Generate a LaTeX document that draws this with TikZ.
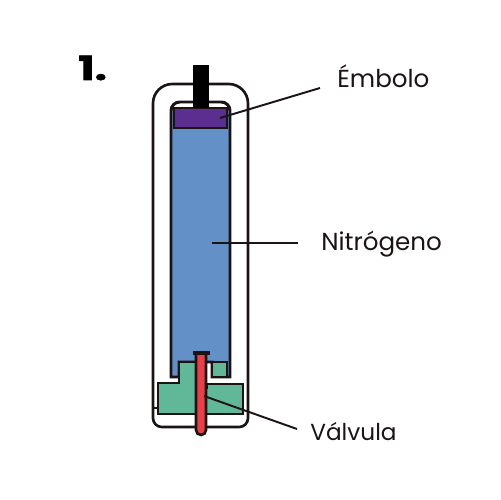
\documentclass[tikz,border=0pt]{standalone}
\usepackage{fontspec}
\setmainfont{Poppins}
\usetikzlibrary{positioning, calc}
\definecolor{DarkLine}{rgb}{0.11, 0.08, 0.08}
\definecolor{PistonPurple}{rgb}{0.36, 0.18, 0.56}
\definecolor{GasBlue}{rgb}{0.39, 0.57, 0.78}
\definecolor{SealGreen}{rgb}{0.38, 0.72, 0.60}
\definecolor{ValveRed}{rgb}{0.91, 0.25, 0.29}
\tikzset{
  wall/.style={draw=DarkLine, line width=1.5pt, line join=miter},
  leader/.style={draw=DarkLine, line width=1.1pt},
  partlabel/.style={font=\fontsize{14}{18}\selectfont, text=DarkLine, anchor=base west, inner ysep=0pt}
}
\begin{document}
\begin{tikzpicture}[x=0.02cm, y=-0.02cm]
\useasboundingbox (0,0) rectangle (500,500);

% carcasa exterior
\draw[wall, rounded corners=11pt] (153,250) -- (153,84) -- (248,84) -- (248,250);
\draw[wall, rounded corners=5pt] (153,250) -- (153,427) -- (248,427) -- (248,250);

% nitrogeno
\fill[GasBlue] (171,110) rectangle (230,377);
\fill[white] (179,362) rectangle (212,378);
\draw[wall, line width=1.7pt] (171,377) [rounded corners=5pt] -- (171,102) -- (230,102) -- (230,300) [sharp corners] -- (230,377) -- (212,377) -- (212,362) -- (179,362) -- (179,377) -- cycle;

% sello
\draw[wall, fill=SealGreen] (179,362) -- (197,362) -- (197,414) -- (158,414) -- (158,383) -- (179,383) -- cycle;
\draw[wall, fill=SealGreen] (205,388) -- (207,388) -- (207,384) -- (243,384) -- (243,414) -- (205,414) -- cycle;
\draw[wall, fill=SealGreen] (212,362) rectangle (227,377);
\draw[wall] (153,408) -- (158,408);
\draw[wall] (203,364) -- (203,388);

% embolo y vastago
\draw[wall, fill=PistonPurple] (174,108) rectangle (227,128);
\fill[black] (193,65) rectangle (209,108);

% valvula
\draw[wall, fill=ValveRed] (196,353) -- (196,430) arc[start angle=180, end angle=0, radius=5] -- (206,353) -- cycle;
\draw[wall, line width=1.8pt] (193,353) -- (210,353);

% etiquetas
\node[font=\fontsize{19}{22}\selectfont\bfseries, text=black, anchor=base west, inner sep=0pt] (numlabel) at (78,80) {\addfontfeature{FakeBold=1.5}\scalebox{1.3}[1]{1.}};
\node[partlabel, inner xsep=0.34cm] (embololabel) at (320,88) {Émbolo};
\node[partlabel, inner xsep=0.46cm] (nitrolabel) at (298,250) {Nitrógeno};
\node[partlabel, inner xsep=0.26cm, font=\fontsize{13.2}{18}\selectfont] (valvelabel) at (297,440) {Válvula};

% lineas
\coordinate (embolopoint) at (220,118);
\coordinate (nitropoint) at (212,243);
\coordinate (valvepoint) at (204,396);
\draw[leader] (embolopoint) -- (embololabel.base west);
\draw[leader] (nitropoint) -- (nitrolabel.west |- nitropoint);
\draw[leader] (valvepoint) -- ($(valvelabel.base west)+(0,-11)$);

\end{tikzpicture}
\end{document}
